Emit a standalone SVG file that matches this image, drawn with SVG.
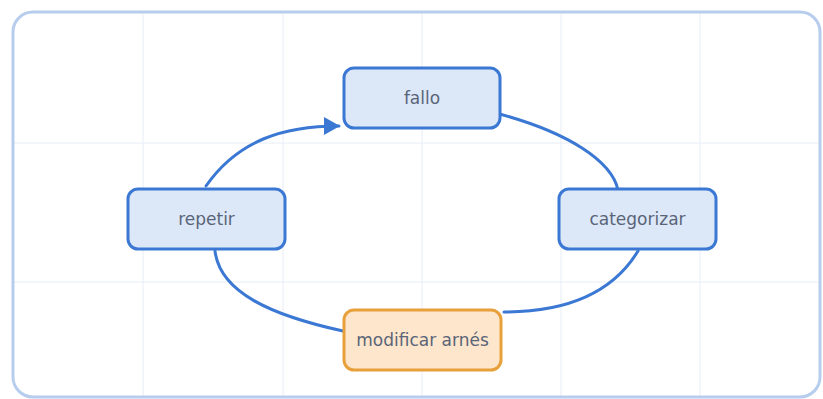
<svg xmlns="http://www.w3.org/2000/svg" width="823" height="399" viewBox="0 0 823 399">
  <style>
    .grid { stroke: #e6eef8; stroke-width: 1; }
    .node rect { fill: #dce8f8; stroke: #3a78d4; stroke-width: 3; }
    .node.warn rect { fill: #fde6cc; stroke: #e8a03a; }
    .node text { font-family: "DejaVu Sans", "Liberation Sans", sans-serif; font-size: 17px; fill: #5a6478; text-anchor: middle; dominant-baseline: central; }
    .edge { fill: none; stroke: #3a78d4; stroke-width: 3; stroke-linecap: round; }
  </style>
  <defs>
    <marker id="arrow" markerWidth="16" markerHeight="18" refX="15" refY="9" orient="auto" markerUnits="userSpaceOnUse">
      <path d="M0,0 L16,9 L0,18 Z" fill="#3a78d4"/>
    </marker>
  </defs>
  <rect x="0" y="0" width="823" height="399" fill="#ffffff"/>
  <g id="grid">
    <line class="grid" x1="143" y1="14" x2="143" y2="396"/>
    <line class="grid" x1="283" y1="14" x2="283" y2="396"/>
    <line class="grid" x1="422" y1="14" x2="422" y2="396"/>
    <line class="grid" x1="561" y1="14" x2="561" y2="396"/>
    <line class="grid" x1="700" y1="14" x2="700" y2="396"/>
    <line class="grid" x1="14" y1="143" x2="818" y2="143"/>
    <line class="grid" x1="14" y1="282" x2="818" y2="282"/>
  </g>
  <rect id="panel" x="13" y="12" width="807" height="385" rx="20" fill="none" stroke="#b6cdee" stroke-width="3"/>
  <g id="connectors">
    <path class="edge" d="M206,186 C238,140 284,126 339,126" marker-end="url(#arrow)"/>
    <path class="edge" d="M492,112 C570,132 612,162 618,190"/>
    <path class="edge" d="M638,251 C612,294 564,312 504,312"/>
    <path class="edge" d="M343,331 C270,315 220,292 215,251"/>
  </g>
  <g id="fallo" class="node">
    <rect x="344" y="68" width="156" height="60" rx="10"/>
    <text x="422" y="98">fallo</text>
  </g>
  <g id="repetir" class="node">
    <rect x="128" y="189" width="157" height="60" rx="10"/>
    <text x="206.5" y="219">repetir</text>
  </g>
  <g id="categorizar" class="node">
    <rect x="559" y="189" width="157" height="60" rx="10"/>
    <text x="637.5" y="219">categorizar</text>
  </g>
  <g id="modificar" class="node warn">
    <rect x="344" y="310" width="157" height="60" rx="10"/>
    <text x="422.5" y="340">modificar arnés</text>
  </g>
</svg>
